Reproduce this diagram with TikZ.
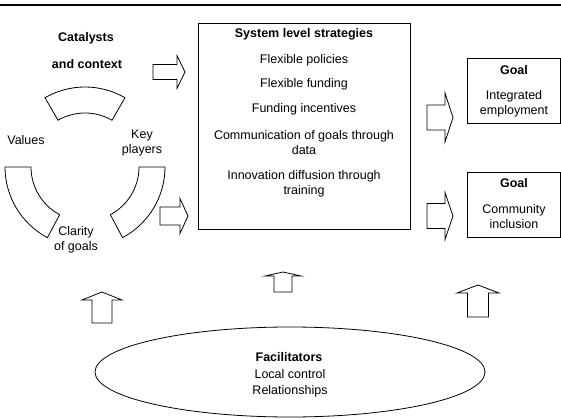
\documentclass[tikz,border=0pt]{standalone}
\usepackage{fontspec}
\setmainfont{Liberation Sans}
\usetikzlibrary{shapes.geometric}

% block arrows, pointing right and up
\newcommand\rightblock[6]{\draw[blockarrow] (#1,#4-#5) -- (#2,#4-#5) -- (#2,#4-#6)
  -- (#3,#4) -- (#2,#4+#6) -- (#2,#4+#5) -- (#1,#4+#5) -- cycle;}
\newcommand\upblock[6]{\draw[blockarrow] (#4-#5,#1) -- (#4-#5,#2) -- (#4-#6,#2)
  -- (#4,#3) -- (#4+#6,#2) -- (#4+#5,#2) -- (#4+#5,#1) -- cycle;}
% annular sector round the catalysts circle
\newcommand\sector[2]{\draw[segment] ([shift={(cyc)}]#1:80pt) arc[start angle=#1, end angle=#2, radius=80pt]
  -- ([shift={(cyc)}]#2:54pt) arc[start angle=#2, end angle=#1, radius=54pt] -- cycle;}

\begin{document}
\begin{tikzpicture}[x=1pt, y=-1pt,
  every node/.style = {font=\fontsize{12.5}{15}\selectfont, inner sep=0pt, align=center},
  head/.style = {font=\fontsize{12.5}{15}\selectfont\bfseries},
  frame/.style = {draw, line width=0.8pt},
  blockarrow/.style = {draw, line width=0.8pt, line join=miter},
  segment/.style = {draw, line width=0.8pt}
  ]
  \useasboundingbox (0,0) rectangle (561,419);
  \draw[line width=2.6pt] (0,5) -- (561,5);

  % catalysts and context
  \coordinate (cyc) at (85,167);
  \node[head] (cat) at (86,38) {Catalysts};
  \node[head] (ctx) at (87,64) {and context};
  \sector{60}{120}
  \sector{180}{242}
  \sector{-62}{0}
  \node (values) at (26,140) {Values};
  \node (key) at (142,143) {Key\\players};
  \node (clarity) at (76,240) {Clarity\\of goals};

  % system level strategies
  \node[frame, minimum width=212, minimum height=206] (strat) at (304,126) {};
  \node[head] (sys) at (304,34) {System level strategies};
  \node (s1) at (304,60) {Flexible policies};
  \node (s2) at (304,84) {Flexible funding};
  \node (s3) at (304,109) {Funding incentives};
  \node (s4) at (304,142.5) {Communication of goals through\\data};
  \node (s5) at (304,183.5) {Innovation diffusion through\\training};

  % goals
  \node[frame, minimum width=93, minimum height=65] (goal1) at (513.5,90.5) {};
  \node[head] (g1) at (514,70) {Goal};
  \node (g1t) at (514,103.5) {Integrated\\employment};
  \node[frame, minimum width=93, minimum height=65] (goal2) at (513.5,204.5) {};
  \node[head] (g2) at (514,183) {Goal};
  \node (g2t) at (514,216.5) {Community\\inclusion};

  % facilitators
  \node[ellipse, frame, minimum width=390, minimum height=90] (fac) at (290,372) {};
  \node[head] (f0) at (289,357) {Facilitators};
  \node (f1) at (290,374) {Local control};
  \node (f2) at (290,391) {Relationships};

  % arrows
  \rightblock{153}{177}{185}{72}{7.5}{16.5}
  \rightblock{160}{180}{188}{216}{9}{17.5}
  \rightblock{427}{445}{453}{117.5}{12.5}{24.5}
  \rightblock{427}{445}{453}{216}{12.5}{23.5}
  \upblock{323}{300}{292}{102}{10}{20}
  \upblock{292}{276}{272}{283}{9}{18}
  \upblock{317}{293}{285}{478}{10.5}{21}
\end{tikzpicture}
\end{document}
